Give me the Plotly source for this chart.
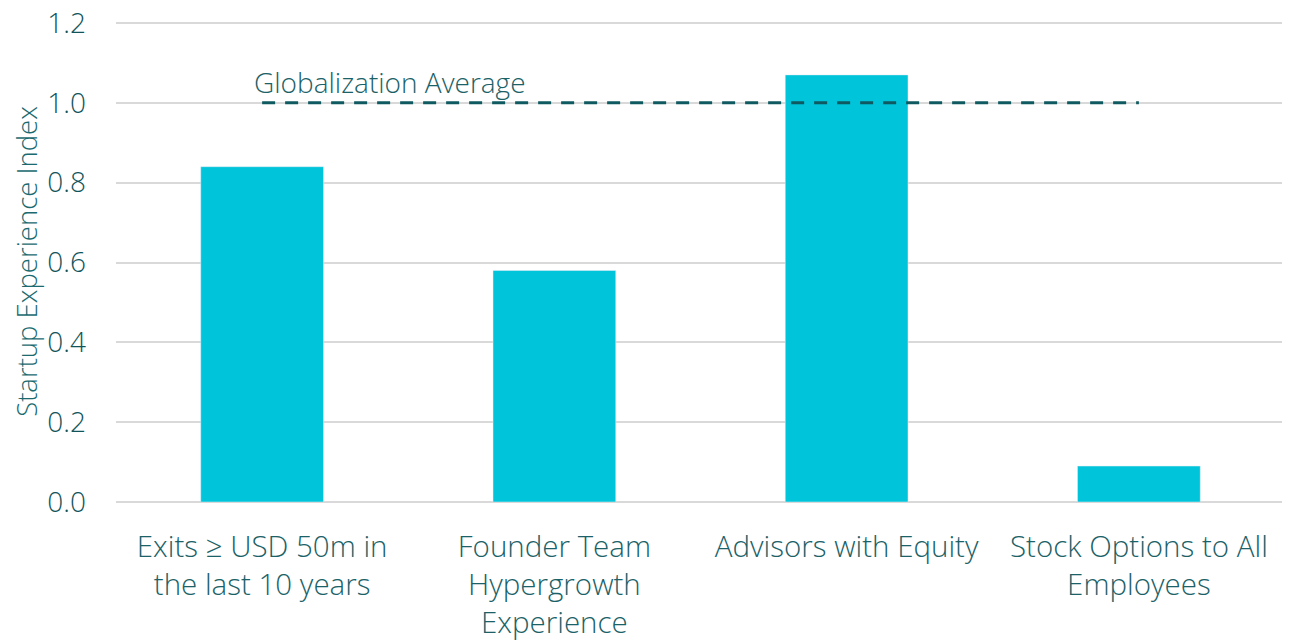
import plotly.graph_objects as go

categories = ["Exits ≥ USD 50m in<br>the last 10 years",
              "Founder Team<br>Hypergrowth<br>Experience",
              "Advisors with Equity",
              "Stock Options to All<br>Employees"]
values = [0.84, 0.58, 1.07, 0.09]
avg_value = 1.0
avg_label = "Globalization Average"
y_ticks = [0.0, 0.2, 0.4, 0.6, 0.8, 1.0, 1.2]

text_color = "#11555b"
fig = go.Figure()
fig.add_trace(go.Bar(x=categories, y=values, marker_color="#00c4d9",
                     width=0.42, hoverinfo="y"))
fig.add_trace(go.Scatter(x=[categories[0], categories[-1]], y=[avg_value, avg_value],
                         mode="lines", line=dict(color="#0f5a60", width=3, dash="13px,10px"),
                         hoverinfo="skip"))
fig.add_annotation(x=categories[0], y=avg_value, text=avg_label, showarrow=False,
                   xanchor="left", yanchor="bottom", xshift=-10, yshift=0,
                   font=dict(family="Open Sans", size=28, weight=300, color="#1b6268"))
fig.update_layout(
    width=1282, height=634,
    margin=dict(l=108, r=5, t=13, b=140, autoexpand=False),
    plot_bgcolor="white", paper_bgcolor="white",
    showlegend=False, bargap=0.58,
    font=dict(family="Open Sans", color=text_color, weight=300),
)
fig.update_xaxes(tickfont=dict(size=29.5, weight=300, color="#1b6268"), showline=False, ticks="",
                 ticklabelstandoff=24, automargin=False)
fig.update_yaxes(range=[0, 1.205], tickvals=y_ticks, tickformat=".1f",
                 tickfont=dict(size=28, weight=300, color=text_color),
                 ticklabeloverflow="allow",
                 showgrid=True, gridcolor="#d9d9d9", gridwidth=1.5,
                 zeroline=True, zerolinecolor="#d9d9d9", zerolinewidth=2,
                 ticks="", ticklabelstandoff=29, automargin=False,
                 title=dict(text="Startup Experience Index", standoff=3,
                            font=dict(size=27.5, weight=300, color="#1a6a70")))
fig.write_html("out.html")
